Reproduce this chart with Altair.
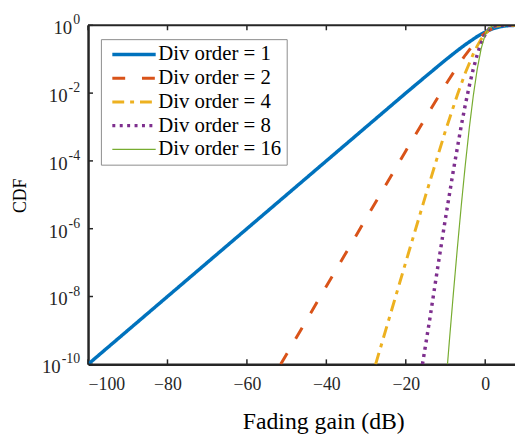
import altair as alt
import pandas as pd

series_names = ["Div order = 1", "Div order = 2", "Div order = 4", "Div order = 8", "Div order = 16"]

gain_db_1 = [-100, -80, -60, -40, -20, -15, -10, -7, -5, -3, -2, -1, 0, 1, 2, 3, 4, 5, 6, 7, 8]
cdf_1 = [1e-10, 1e-8, 1e-6, 1e-4, 1e-2, 0.031, 0.095, 0.18, 0.27, 0.39, 0.47, 0.55, 0.63, 0.72, 0.80, 0.86, 0.92, 0.96, 0.98, 0.993, 0.998]

gain_db_2 = [-51.5, -40, -30, -20, -15, -10, -7, -5, -3, -2, -1, 0, 1, 2, 3, 4, 5, 6, 7, 8]
cdf_2 = [1e-10, 2e-8, 2e-6, 1.97e-4, 1.9e-3, 0.0175, 0.061, 0.133, 0.265, 0.36, 0.471, 0.594, 0.717, 0.825, 0.908, 0.96, 0.987, 0.997, 0.9995, 0.99995]

gain_db_4 = [-27.6, -25, -20, -15, -10, -7, -5, -3, -2, -1, 0, 1, 2, 3, 4, 5, 6, 7, 8]
cdf_4 = [1e-10, 1.07e-9, 1.03e-7, 9.6e-6, 7.8e-4, 9.0e-3, 0.040, 0.1435, 0.248, 0.392, 0.567, 0.74, 0.877, 0.957, 0.99, 0.9986, 0.9999, 1.0, 1.0]

gain_db_8 = [-15.8, -14, -12, -10, -8, -6, -5, -4, -3, -2, -1, 0, 1, 2, 3, 4, 5, 6, 7, 8]
cdf_8 = [1e-10, 2.0e-9, 6.7e-8, 2.05e-6, 5.4e-5, 1.14e-3, 4.6e-3, 0.0164, 0.052, 0.138, 0.305, 0.547, 0.786, 0.936, 0.991, 0.9993, 1.0, 1.0, 1.0, 1.0]

gain_db_16 = [-9.5, -9, -8, -7, -6, -5, -4, -3, -2, -1, 0, 1, 2, 3, 4, 5, 6, 7, 8]
cdf_16 = [1e-10, 5.3e-10, 1.3e-8, 2.8e-7, 5.2e-6, 7.9e-5, 9.5e-4, 8.4e-3, 0.052, 0.21, 0.533, 0.843, 0.978, 0.999, 1.0, 1.0, 1.0, 1.0, 1.0]

x_ticks = [-100, -80, -60, -40, -20, 0]
y_ticks = [1e-10, 1e-8, 1e-6, 1e-4, 1e-2, 1]
y_tick_base = "10"
y_tick_exps = ["-10", "-8", "-6", "-4", "-2", "0"]

colors = ["#0072BD", "#D95319", "#EDB120", "#7E2F8E", "#77AC30"]
dashes = [[1, 0], [13, 17], [12, 6, 4, 6], [3, 4.5], [1, 0]]
widths = [3.5, 3, 3, 3.5, 1.2]

rows = []
for name, xs, ys in zip(series_names,
                        [gain_db_1, gain_db_2, gain_db_4, gain_db_8, gain_db_16],
                        [cdf_1, cdf_2, cdf_4, cdf_8, cdf_16]):
    for x, y in zip(xs, ys):
        rows.append({"series": name, "gain": x, "cdf": y})
df = pd.DataFrame(rows)

W, H = 432, 343
axis_color = "#262626"
serif = "Liberation Serif"

x_scale = alt.Scale(domain=[-100, 7.5], nice=False, zero=False)
y_scale = alt.Scale(type="log", domain=[1e-10, 1], nice=False)

legend = alt.Legend(
    title=None, orient="none", legendX=13, legendY=14,
    fillColor="white", strokeColor="#8c8c8c", padding=5,
    symbolType="M-5,0H5", symbolSize=77, symbolOffset=18,
    labelFont=serif, labelFontSize=21,
    labelColor="black", labelOffset=14, rowPadding=2,
)

lines = alt.Chart(df).mark_line(clip=True).encode(
    x=alt.X("gain:Q", scale=x_scale,
            axis=alt.Axis(values=x_ticks, title="Fading gain (dB)", ticks=False,
                          labelPadding=12, titlePadding=16, titleX=238, titleAlign="center",
                          titleFontSize=24, titleFont=serif, titleFontWeight="normal")),
    y=alt.Y("cdf:Q", scale=y_scale,
            axis=alt.Axis(values=y_ticks, labels=False, title="CDF", ticks=False,
                          titleX=-68, titleY=172, titleAlign="center",
                          titleBaseline="middle", titleAngle=270,
                          titleFontSize=18, titleFont=serif, titleFontWeight="normal")),
    color=alt.Color("series:N", scale=alt.Scale(domain=series_names, range=colors), legend=legend),
    strokeDash=alt.StrokeDash("series:N", scale=alt.Scale(type="ordinal", domain=series_names, range=dashes), legend=legend),
    strokeWidth=alt.StrokeWidth("series:N", scale=alt.Scale(type="ordinal", domain=series_names, range=widths), legend=legend),
)

xt = pd.DataFrame({"gain": x_ticks})
yt = pd.DataFrame({"cdf": y_ticks, "exp": y_tick_exps})

bottom_ticks = alt.Chart(xt).mark_rule(color=axis_color, strokeWidth=1.5).encode(
    x=alt.X("gain:Q", scale=x_scale), y=alt.value(H), y2=alt.value(H - 5))
top_ticks = alt.Chart(xt).mark_rule(color=axis_color, strokeWidth=1.5).encode(
    x=alt.X("gain:Q", scale=x_scale), y=alt.value(0), y2=alt.value(5))
left_ticks = alt.Chart(yt).mark_rule(color=axis_color, strokeWidth=1.5).encode(
    y=alt.Y("cdf:Q", scale=y_scale), x=alt.value(0), x2=alt.value(5))
top_line = alt.Chart(pd.DataFrame({"k": [0]})).mark_rule(color=axis_color, strokeWidth=2).encode(
    x=alt.value(0), x2=alt.value(W), y=alt.value(0))

exp_text = alt.Chart(yt).mark_text(
    align="right", baseline="middle", font=serif, fontSize=14, color=axis_color, dy=-5
).encode(x=alt.value(-8), y=alt.Y("cdf:Q", scale=y_scale), text="exp:N")

base_text = alt.Chart(yt).transform_calculate(
    bx="-9 - length(replace(datum.exp, '-', '')) * 7 - (indexof(datum.exp, '-') >= 0 ? 4.7 : 0)",
    base=f"'{y_tick_base}'",
).mark_text(
    align="right", baseline="middle", font=serif, fontSize=19, color=axis_color, dy=3
).encode(x=alt.X("bx:Q", scale=None), y=alt.Y("cdf:Q", scale=y_scale), text="base:N")

chart = alt.layer(lines, bottom_ticks, top_ticks, left_ticks, top_line, exp_text, base_text).properties(
    width=W, height=H,
    padding={"left": 81, "top": 15, "right": 0, "bottom": 68},
    autosize=alt.AutoSizeParams(type="none"),
    background="white",
).configure_view(strokeOpacity=0).configure_axis(
    domainColor=axis_color, domainWidth=2.5, grid=False,
    labelFont=serif, labelFontSize=18, labelColor=axis_color, titleColor="black",
)

chart.save("out.html", embed_options={"renderer": "svg", "actions": False})
